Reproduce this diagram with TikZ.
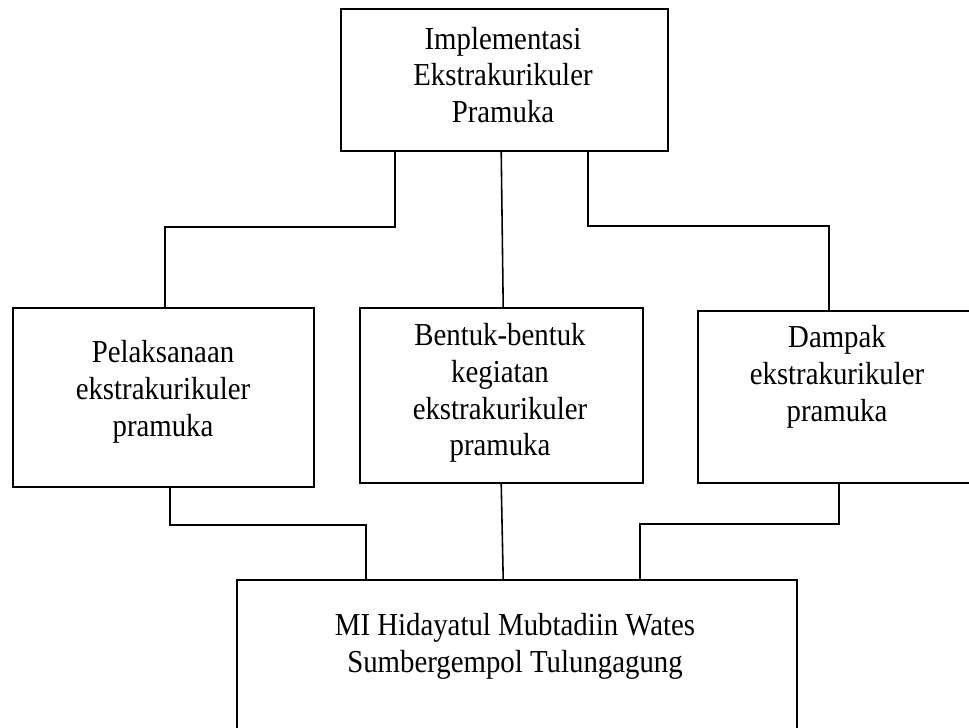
\documentclass[tikz,border=0pt]{standalone}
\usepackage{fontspec}
\setmainfont{Liberation Serif}
\usetikzlibrary{calc}

\tikzset{
  kotak/.style = {draw, line width=0.9pt, rectangle, inner sep=0pt},
  teks/.style  = {align=center, inner sep=0pt, yscale=1.11, transform shape,
                  font=\fontsize{16.4}{18.9}\selectfont},
  garis/.style = {line width=0.9pt}
}

\begin{document}
\begin{tikzpicture}[x=0.02cm, y=-0.02cm]
       \clip (0, 0) rectangle (969, 727);
       % 五个方框
       \node [kotak, minimum width=327*0.02cm, minimum height=142*0.02cm] (implementasi) at (504.5, 80) {};
       \node [kotak, minimum width=301*0.02cm, minimum height=179*0.02cm] (pelaksanaan) at (163.5, 397.5) {};
       \node [kotak, minimum width=283*0.02cm, minimum height=175*0.02cm] (bentuk) at (501.5, 395.5) {};
       \node [kotak, minimum width=278*0.02cm, minimum height=172*0.02cm] (dampak) at (837, 397) {};
       \node [kotak, minimum width=560*0.02cm, minimum height=170*0.02cm] (sekolah) at (517, 665) {};

       % 文字
       \node [teks] (tImplementasi) at (503, 75) {Implementasi\\Ekstrakurikuler\\Pramuka};
       \node [teks] (tPelaksanaan) at (163, 392) {Pelaksanaan\\ekstrakurikuler\\pramuka};
       \node [teks] (tBentuk) at (500, 393) {Bentuk-bentuk\\kegiatan\\ekstrakurikuler\\pramuka};
       \node [teks] (tDampak) at (837, 377) {Dampak\\ekstrakurikuler\\pramuka};
       \node [teks] (tSekolah) at (515, 646.5) {MI Hidayatul Mubtadiin Wates\\Sumbergempol Tulungagung};

       % 上面三条连线
       \draw [garis] ($(implementasi.south west)+(55, 0)$) -- ++(0, 75)
             -| ($(pelaksanaan.north west)+(153, 0)$) -- ++(0, 1) -- ++(-88, 0);
       \draw [garis] ($(implementasi.south west)+(161, 0)$) -- ($(bentuk.north west)+(144, 0)$);
       \draw [garis] ($(implementasi.south west)+(248, 0)$) -- ++(0, 74)
             -| ($(dampak.north west)+(132, 0)$) -- ++(0, 1) -- ++(122, 0);

       % 下面三条连线
       \draw [garis] ($(pelaksanaan.south west)+(158, 0)$) -- ++(0, 37)
             -| ($(sekolah.north west)+(130, 0)$) -- ++(0, 1) -- ++(121, 0);
       \draw [garis] ($(bentuk.south west)+(142, 0)$) -- ($(sekolah.north west)+(267, 0)$);
       \draw [garis] ($(dampak.south west)+(142, 0)$) -- ++(0, 40)
             -| ($(sekolah.north west)+(404, 0)$) -- ++(0, 1) -- ++(-116, 0);
\end{tikzpicture}
\end{document}
